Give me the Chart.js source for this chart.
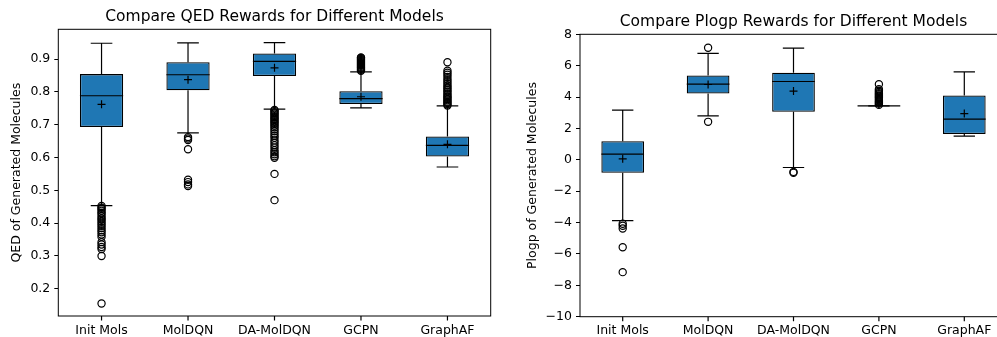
<!DOCTYPE html>
<html>
<head>
<meta charset="utf-8">
<script src="https://cdn.jsdelivr.net/npm/chart.js@4.4.0/dist/chart.umd.min.js"></script>
<style>
body { margin: 0; background: #fff; }
#left { position: absolute; left: 0; top: 0; width: 500px; height: 337px; }
#rightWrap { position: absolute; left: 500px; top: 0; width: 497px; height: 337px; overflow: hidden; }
#right { position: absolute; left: 0; top: 0; width: 520px; height: 337px; }
</style>
</head>
<body>
<div id="left"><canvas id="qed" width="500" height="337"></canvas></div>
<div id="rightWrap"><div id="right"><canvas id="plogp" width="520" height="337"></canvas></div></div>
<script>
var categories = ['Init Mols', 'MolDQN', 'DA-MolDQN', 'GCPN', 'GraphAF'];

// QED box stats
var qedLow = [0.453, 0.675, 0.747, 0.751, 0.571];
var qedQ1 = [0.693, 0.805, 0.848, 0.763, 0.603];
var qedMedian = [0.788, 0.852, 0.893, 0.779, 0.637];
var qedQ3 = [0.854, 0.890, 0.917, 0.802, 0.664];
var qedHigh = [0.948, 0.949, 0.950, 0.861, 0.757];
var qedMean = [0.762, 0.837, 0.873, 0.785, 0.640];
var qedOutliers = [
    [0.452, 0.447, 0.443, 0.438, 0.432, 0.428, 0.421, 0.415, 0.41, 0.404, 0.398, 0.392, 0.385, 0.378, 0.372, 0.365, 0.358, 0.342, 0.335, 0.327, 0.321, 0.3, 0.155],
    [0.662, 0.658, 0.653, 0.625, 0.532, 0.525, 0.518, 0.513],
    [0.745, 0.742, 0.738, 0.734, 0.73, 0.726, 0.722, 0.718, 0.714, 0.71, 0.706, 0.702, 0.697, 0.692, 0.686, 0.68, 0.673, 0.666, 0.66, 0.652, 0.645, 0.637, 0.63, 0.622, 0.616, 0.61, 0.604, 0.599, 0.55, 0.47],
    [0.864, 0.867, 0.87, 0.873, 0.876, 0.879, 0.882, 0.885, 0.888, 0.891, 0.894, 0.897, 0.9, 0.903, 0.905],
    [0.758, 0.762, 0.766, 0.77, 0.774, 0.778, 0.782, 0.786, 0.79, 0.795, 0.8, 0.805, 0.81, 0.815, 0.82, 0.826, 0.832, 0.838, 0.845, 0.852, 0.858, 0.864, 0.89]
];
var qedTicks = [0.2, 0.3, 0.4, 0.5, 0.6, 0.7, 0.8, 0.9];

// Plogp box stats
var plogpLow = [-3.87, 2.80, -0.49, 3.44, 1.51];
var plogpQ1 = [-0.83, 4.23, 3.06, 3.44, 1.64];
var plogpMedian = [0.36, 4.82, 4.99, 3.44, 2.59];
var plogpQ3 = [1.19, 5.38, 5.55, 3.44, 4.10];
var plogpHigh = [3.17, 6.78, 7.12, 3.44, 5.61];
var plogpMean = [0.06, 4.80, 4.38, 3.55, 2.95];
var plogpOutliers = [
    [-4.08, -4.2, -4.38, -5.57, -7.16],
    [7.14, 2.42],
    [-0.77, -0.83],
    [3.5, 3.58, 3.65, 3.72, 3.8, 3.88, 3.95, 4.02, 4.1, 4.18, 4.25, 4.32, 4.4, 4.5, 4.82],
    []
];
var plogpTicks = [-10, -8, -6, -4, -2, 0, 2, 4, 6, 8];

Chart.defaults.font.family = 'DejaVu Sans';
Chart.defaults.color = '#000';

function boxPlugin(low, q1, median, q3, high) {
    return {
        id: 'boxLines',
        beforeDatasetsDraw: function (chart) {
            var ctx = chart.ctx, y = chart.scales.y;
            var bars = chart.getDatasetMeta(0).data;
            ctx.save();
            ctx.strokeStyle = '#000';
            ctx.lineWidth = 1.2;
            for (var i = 0; i < bars.length; i++) {
                var x = bars[i].x, cap = bars[i].width / 4;
                var yLow = y.getPixelForValue(low[i]);
                var yHigh = y.getPixelForValue(high[i]);
                ctx.beginPath();
                ctx.moveTo(x, y.getPixelForValue(q1[i])); ctx.lineTo(x, yLow);
                ctx.moveTo(x, y.getPixelForValue(q3[i])); ctx.lineTo(x, yHigh);
                ctx.moveTo(x - cap, yLow); ctx.lineTo(x + cap, yLow);
                ctx.moveTo(x - cap, yHigh); ctx.lineTo(x + cap, yHigh);
                ctx.stroke();
            }
            ctx.restore();
        },
        afterDatasetDraw: function (chart, args) {
            if (args.index !== 0) return;
            var ctx = chart.ctx, y = chart.scales.y;
            var bars = chart.getDatasetMeta(0).data;
            ctx.save();
            ctx.strokeStyle = '#000';
            ctx.lineWidth = 1.2;
            for (var i = 0; i < bars.length; i++) {
                var half = bars[i].width / 2;
                var ym = y.getPixelForValue(median[i]);
                ctx.beginPath();
                ctx.moveTo(bars[i].x - half, ym);
                ctx.lineTo(bars[i].x + half, ym);
                ctx.stroke();
            }
            ctx.restore();
        },
        afterDraw: function (chart) {
            var a = chart.chartArea, ctx = chart.ctx;
            var bars = chart.getDatasetMeta(0).data;
            ctx.save();
            ctx.strokeStyle = '#000';
            ctx.lineWidth = 1;
            ctx.strokeRect(a.left, a.top, a.right - a.left, a.bottom - a.top);
            // x tick marks under each box centre
            ctx.lineWidth = 1.2;
            ctx.beginPath();
            for (var i = 0; i < bars.length; i++) {
                ctx.moveTo(bars[i].x, a.bottom);
                ctx.lineTo(bars[i].x, a.bottom + 4.5);
            }
            ctx.stroke();
            ctx.restore();
        }
    };
}

function makeChart(id, s) {
    var outlierPoints = [];
    for (var i = 0; i < categories.length; i++) {
        for (var j = 0; j < s.outliers[i].length; j++) {
            outlierPoints.push({ x: categories[i], y: s.outliers[i][j] });
        }
    }
    var boxes = [];
    for (var k = 0; k < categories.length; k++) boxes.push([s.q1[k], s.q3[k]]);

    return new Chart(document.getElementById(id), {
        type: 'bar',
        data: {
            labels: categories,
            datasets: [{
                data: boxes,
                backgroundColor: '#1f77b4',
                borderColor: '#000',
                borderWidth: 1.3,
                borderSkipped: false,
                barPercentage: 0.5,
                categoryPercentage: 1.0,
                order: 3
            }, {
                type: 'line',
                data: outlierPoints,
                showLine: false,
                pointStyle: 'circle',
                pointRadius: 3.6,
                pointBorderWidth: 1.2,
                pointBorderColor: '#000',
                pointBackgroundColor: 'rgba(0,0,0,0)',
                order: 2
            }, {
                type: 'line',
                data: s.mean,
                showLine: false,
                pointStyle: 'cross',
                pointRadius: 4,
                pointBorderWidth: 1.2,
                pointBorderColor: '#000',
                order: 1
            }]
        },
        options: {
            responsive: false,
            animation: false,
            devicePixelRatio: 1,
            layout: { padding: { left: 0, right: s.padRight, top: 0, bottom: 0 } },
            plugins: {
                legend: { display: false },
                tooltip: { enabled: false },
                title: {
                    display: true,
                    fullSize: false,
                    text: s.title,
                    font: { size: 15.5, weight: 'normal' },
                    padding: { top: s.titleTop, bottom: 3.2 }
                }
            },
            scales: {
                x: {
                    offset: true,
                    border: { display: false },
                    grid: { display: true, drawOnChartArea: false, tickLength: 4, color: 'rgba(0,0,0,0)' },
                    ticks: { font: { size: 12.5 }, padding: 3, maxRotation: 0 },
                    afterFit: function (scale) { scale.height = s.xHeight; }
                },
                y: {
                    min: s.min,
                    max: s.max,
                    border: { display: false },
                    grid: { display: true, drawOnChartArea: false, tickLength: 4, color: '#000' },
                    ticks: {
                        font: { size: 12.5 },
                        padding: 4,
                        callback: s.fmt
                    },
                    afterBuildTicks: function (axis) {
                        axis.ticks = s.ticks.map(function (v) { return { value: v }; });
                    },
                    title: {
                        display: true,
                        text: s.yTitle,
                        font: { size: 12.5 },
                        padding: { top: s.yTitlePad, bottom: 0 }
                    },
                    afterFit: function (scale) { scale.width = s.yWidth; }
                }
            }
        },
        plugins: [boxPlugin(s.low, s.q1, s.median, s.q3, s.high)]
    });
}

makeChart('qed', {
    title: 'Compare QED Rewards for Different Models',
    yTitle: 'QED of Generated Molecules',
    low: qedLow, q1: qedQ1, median: qedMedian, q3: qedQ3, high: qedHigh,
    mean: qedMean, outliers: qedOutliers, ticks: qedTicks,
    min: 0.117, max: 0.9905,
    fmt: function (v) { return v.toFixed(1); },
    padRight: 9.3, titleTop: 7.5, xHeight: 21, yWidth: 58.3, yTitlePad: 9.2
});

makeChart('plogp', {
    title: 'Compare Plogp Rewards for Different Models',
    yTitle: 'Plogp of Generated Molecules',
    low: plogpLow, q1: plogpQ1, median: plogpMedian, q3: plogpQ3, high: plogpHigh,
    mean: plogpMean, outliers: plogpOutliers, ticks: plogpTicks,
    min: -10, max: 8,
    fmt: function (v) { return v < 0 ? '\u2212' + Math.abs(v) : String(v); },
    padRight: 13, titleTop: 12.5, xHeight: 20.3, yWidth: 80, yTitlePad: 24.8
});
</script>
</body>
</html>
